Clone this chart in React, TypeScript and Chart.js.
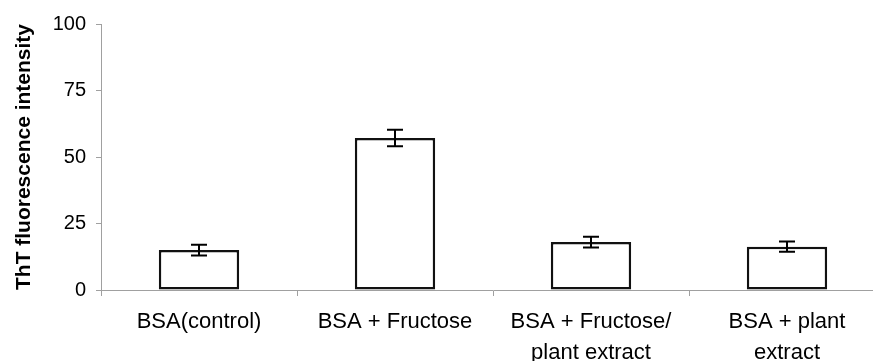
import React, { useEffect, useRef } from "react";
import { Chart, registerables } from "chart.js";

Chart.register(...registerables);

const categories: string[][] = [
  ["BSA(control)"],
  ["BSA + Fructose"],
  ["BSA + Fructose/", "plant extract"],
  ["BSA + plant", "extract"],
];
const values: number[] = [15.0, 57.1, 18.0, 16.3];
const errors: number[] = [2.0, 3.1, 2.0, 1.9];
const yTicks: number[] = [0, 25, 50, 75, 100];

const FONT = "Arial, 'Liberation Sans', sans-serif";

const errorBarPlugin = {
  id: "errorBars",
  afterDatasetsDraw(chart: any) {
    const ctx = chart.ctx;
    const meta = chart.getDatasetMeta(0);
    const yScale = chart.scales.y;
    ctx.save();
    ctx.strokeStyle = "#000";
    ctx.lineWidth = 2;
    meta.data.forEach((bar: any, i: number) => {
      const x = bar.x;
      const yTop = yScale.getPixelForValue(values[i] + errors[i]);
      const yBot = yScale.getPixelForValue(values[i] - errors[i]);
      const cap = 8;
      ctx.beginPath();
      ctx.moveTo(x, yTop);
      ctx.lineTo(x, yBot);
      ctx.moveTo(x - cap, yTop);
      ctx.lineTo(x + cap, yTop);
      ctx.moveTo(x - cap, yBot);
      ctx.lineTo(x + cap, yBot);
      ctx.stroke();
    });
    ctx.restore();
  },
};

export default function App() {
  const ref = useRef<HTMLCanvasElement>(null);
  useEffect(() => {
    if (!ref.current) return;
    const chart = new Chart(ref.current, {
      type: "bar",
      data: {
        labels: categories,
        datasets: [
          {
            data: values,
            backgroundColor: "#ffffff",
            borderColor: "#111111",
            borderWidth: 2.5,
            borderSkipped: false,
            barPercentage: 0.41,
            categoryPercentage: 1,
          },
        ],
      },
      options: {
        responsive: false,
        animation: false,
        layout: { padding: { left: 0, right: 1, top: 24, bottom: 0 } },
        plugins: { legend: { display: false }, tooltip: { enabled: false } },
        scales: {
          x: {
            grid: {
              offset: true,
              drawOnChartArea: false,
              drawTicks: true,
              tickLength: 6,
              color: "#a0a0a0",
            },
            border: { color: "#a0a0a0", width: 1 },
            ticks: {
              color: "#000",
              font: { family: FONT, size: 22, lineHeight: 1.42 },
              padding: 10,
              maxRotation: 0,
              autoSkip: false,
            },
            afterFit: (s: any) => {
              s.height = 71;
            },
          },
          y: {
            min: 0,
            max: 100,
            afterBuildTicks: (s: any) => {
              s.ticks = yTicks.map((v) => ({ value: v }));
            },
            grid: {
              drawOnChartArea: false,
              drawTicks: true,
              tickLength: 5,
              color: "#a0a0a0",
            },
            border: { color: "#a0a0a0", width: 1 },
            ticks: {
              color: "#000",
              font: { family: FONT, size: 20 },
              padding: 10,
            },
            title: {
              display: true,
              text: "ThT fluorescence intensity",
              color: "#000",
              font: { family: FONT, size: 21, weight: "bold" },
              padding: { top: 12, bottom: 0 },
            },
            afterFit: (s: any) => {
              s.width = 101;
            },
          },
        },
      },
      plugins: [errorBarPlugin],
    });
    return () => chart.destroy();
  }, []);
  return (
    <div
      style={{
        position: "fixed",
        left: 0,
        top: 0,
        width: 873,
        height: 361,
        overflow: "hidden",
        background: "#fff",
      }}
    >
      <canvas ref={ref} width={886} height={361} style={{ display: "block" }} />
    </div>
  );
}
